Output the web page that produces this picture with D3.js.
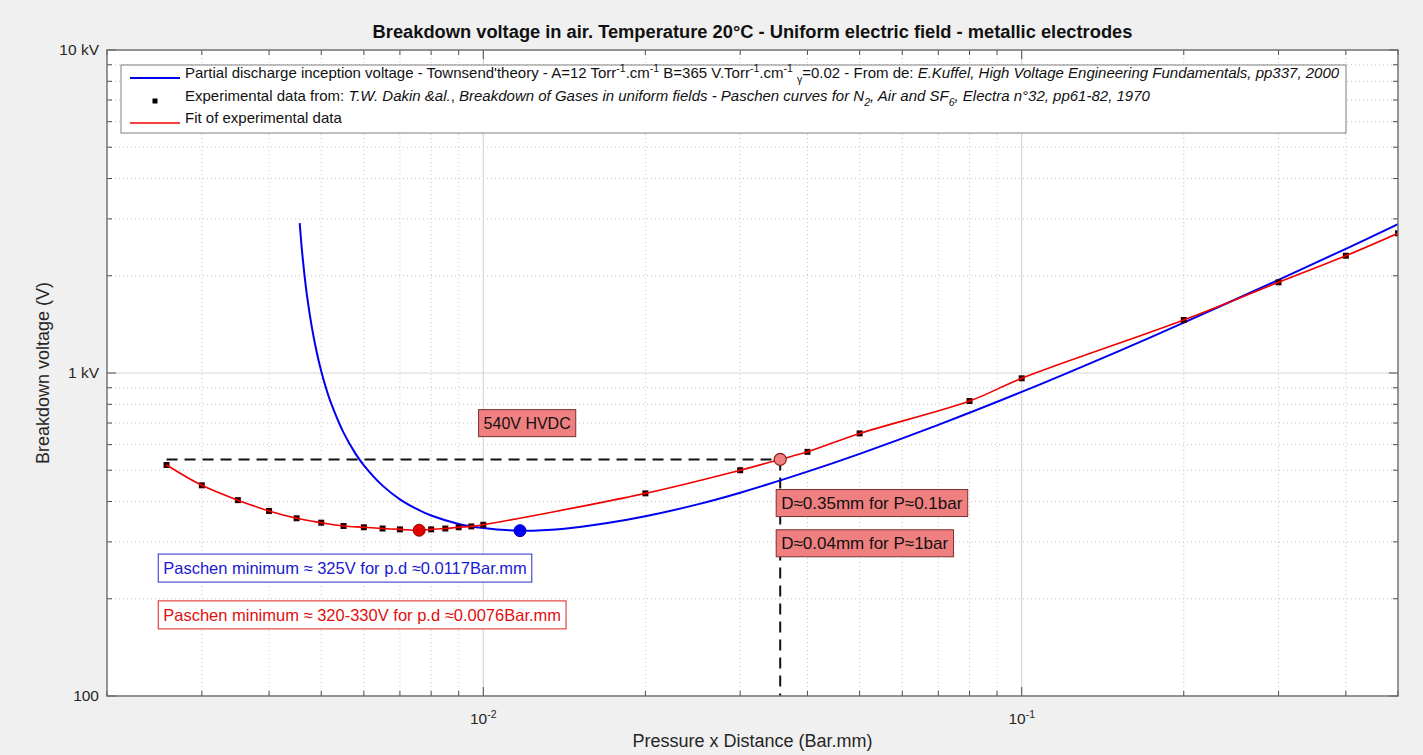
<!DOCTYPE html>
<html><head><meta charset="utf-8">
<script src="https://cdn.jsdelivr.net/npm/d3@7"></script>
<style>
body{margin:0;background:#f0f0f0;}
svg{display:block;font-family:"Liberation Sans",Arial,Helvetica,sans-serif;}
</style>
</head><body>
<svg id="chart" width="1423" height="755"></svg>
<script>
// ---------- data ----------
const expPd = [0.00258,0.003,0.0035,0.004,0.0045,0.005,0.0055,0.006,0.0065,0.007,0.008,0.0085,0.009,0.0095,0.01,0.02,0.03,0.04,0.05,0.08,0.1,0.2,0.3,0.4,0.5];
const expV  = [519,449,404,374,355,344,336,333,330,328,328,330,333,335,339,424,500,570,650,819,963,1459,1909,2307,2707];

const fitPd = [0.00258,0.003,0.0035,0.004,0.0045,0.005,0.0055,0.006,0.0065,0.007,0.0076,0.008,0.0085,0.009,0.0095,0.01,0.02,0.03,0.0356,0.04,0.05,0.08,0.1,0.2,0.3,0.4,0.5];
const fitV  = [519,449,404,374,355,344,336,333,330,328,326,328,330,333,335,339,424,500,540,570,650,819,963,1459,1909,2307,2707];

const townsendPd = [0.00456,0.0046,0.00465,0.0047,0.0048,0.0049,0.005,0.0051,0.0052,0.0055,0.0058,0.006,0.0065,0.007,0.0075,0.008,0.009,0.01,0.0117,0.014,0.017,0.02,0.025,0.03,0.04,0.05,0.07,0.1,0.15,0.2,0.3,0.4,0.5];
const townsendV  = [2910,2436,2037,1755,1395,1168,1013,901,817,654,560,518,448,406,380,362,341,331,325,329,343,360,392,426,495,562,691,874,1161,1432,1942,2424,2888];

const minTownsendPd = 0.0117, minTownsendV = 325;
const minExpPd = 0.0076, minExpV = 326;
const hvdcPd = 0.0356, hvdcV = 540;

const xMajorTicks = [0.01, 0.1];
const xTickExponents = ["-2", "-1"];
const yMajorTicks = [100, 1000, 10000];
const yTickLabels = ["100", "1 kV", "10 kV"];

const titleText = "Breakdown voltage in air. Temperature 20°C - Uniform electric field - metallic electrodes";
const xLabelText = "Pressure x Distance (Bar.mm)";
const yLabelText = "Breakdown voltage (V)";

// ---------- layout ----------
const W = 1423, H = 755;
const L = 107, R = 1398, T = 50, B = 696;
const svg = d3.select("#chart");
const x = d3.scaleLog().domain([0.002, 0.5]).range([L, R]);
const y = d3.scaleLog().domain([100, 10000]).range([B, T]);

svg.append("rect").attr("width", W).attr("height", H).attr("fill", "#f0f0f0");
svg.append("rect").attr("x", L).attr("y", T).attr("width", R - L).attr("height", B - T).attr("fill", "#fff");

// minor tick values
const xMinor = [], yMinor = [];
[0.001, 0.01, 0.1].forEach(d => { for (let k = 2; k <= 9; k++) { const v = d * k; if (v >= 0.002 - 1e-9 && v <= 0.5 + 1e-9) xMinor.push(v); } });
[100, 1000].forEach(d => { for (let k = 2; k <= 9; k++) yMinor.push(d * k); });

// grid
const grid = svg.append("g");
grid.selectAll(".gxm").data(xMinor).join("line")
  .attr("x1", d => x(d)).attr("x2", d => x(d)).attr("y1", T).attr("y2", B)
  .attr("stroke", "#c4c4c4").attr("stroke-width", 1).attr("stroke-dasharray", "1,3");
grid.selectAll(".gym").data(yMinor).join("line")
  .attr("y1", d => y(d)).attr("y2", d => y(d)).attr("x1", L).attr("x2", R)
  .attr("stroke", "#c4c4c4").attr("stroke-width", 1).attr("stroke-dasharray", "1,3");
grid.selectAll(".gxM").data(xMajorTicks).join("line")
  .attr("x1", d => x(d)).attr("x2", d => x(d)).attr("y1", T).attr("y2", B)
  .attr("stroke", "#d6d6d6").attr("stroke-width", 1.2);
grid.selectAll(".gyM").data(yMajorTicks).join("line")
  .attr("y1", d => y(d)).attr("y2", d => y(d)).attr("x1", L).attr("x2", R)
  .attr("stroke", "#d6d6d6").attr("stroke-width", 1.2);

// clip
svg.append("clipPath").attr("id", "clip").append("rect").attr("x", L).attr("y", T).attr("width", R - L).attr("height", B - T);
const plot = svg.append("g").attr("clip-path", "url(#clip)");

// dashed guide lines
plot.append("line").attr("x1", x(expPd[0])).attr("x2", x(hvdcPd)).attr("y1", y(hvdcV)).attr("y2", y(hvdcV))
  .attr("stroke", "#111").attr("stroke-width", 2).attr("stroke-dasharray", "11,7");
plot.append("line").attr("x1", x(hvdcPd)).attr("x2", x(hvdcPd)).attr("y1", y(hvdcV)).attr("y2", y(100))
  .attr("stroke", "#111").attr("stroke-width", 2).attr("stroke-dasharray", "11,7");

const lineGen = d3.line().x(d => x(d[0])).y(d => y(d[1])).curve(d3.curveCatmullRom.alpha(0.5));
// Townsend theory
plot.append("path").datum(d3.zip(townsendPd, townsendV)).attr("d", lineGen)
  .attr("fill", "none").attr("stroke", "#0000f0").attr("stroke-width", 2);
// experimental markers
plot.selectAll(".exp").data(d3.zip(expPd, expV)).join("rect")
  .attr("x", d => x(d[0]) - 3).attr("y", d => y(d[1]) - 3).attr("width", 6).attr("height", 6)
  .attr("fill", "#2a0000");
// fit
plot.append("path").datum(d3.zip(fitPd, fitV)).attr("d", lineGen)
  .attr("fill", "none").attr("stroke", "#f00000").attr("stroke-width", 1.6);

// circles
plot.append("circle").attr("cx", x(minExpPd)).attr("cy", y(minExpV)).attr("r", 6)
  .attr("fill", "#e00000").attr("stroke", "#a00000").attr("stroke-width", 1);
plot.append("circle").attr("cx", x(minTownsendPd)).attr("cy", y(minTownsendV)).attr("r", 6)
  .attr("fill", "#0000f0").attr("stroke", "#0000c0").attr("stroke-width", 1);
plot.append("circle").attr("cx", x(hvdcPd)).attr("cy", y(hvdcV)).attr("r", 6)
  .attr("fill", "#f08080").attr("stroke", "#8b1a1a").attr("stroke-width", 1.2);

// annotation boxes
function boxText(px, py, txt, opts) {
  const g = svg.append("g");
  const t = g.append("text").attr("x", px + opts.pad).attr("y", py).attr("dy", "0.35em")
    .attr("font-size", opts.size).attr("fill", opts.color).text(txt);
  const bb = t.node().getBBox();
  g.insert("rect", "text").attr("x", px).attr("y", bb.y - opts.vpad)
    .attr("width", bb.width + 2 * opts.pad).attr("height", bb.height + 2 * opts.vpad)
    .attr("fill", opts.fill).attr("stroke", opts.stroke).attr("stroke-width", 1);
}
const salmon = {pad: 5, vpad: 5, size: 16, color: "#111", fill: "#f08080", stroke: "#7a3030"};
const salmonD = Object.assign({}, salmon, {size: 17, vpad: 4});
boxText(x(0.0098), y(700), "540V HVDC", salmon);
boxText(x(hvdcPd) - 4, y(397), "D\u22480.35mm for P\u22480.1bar", salmonD);
boxText(x(hvdcPd) - 4, y(298), "D\u22480.04mm for P\u22481bar", salmonD);
boxText(x(0.00249), y(248.5), "Paschen minimum \u2248 325V for p.d \u22480.0117Bar.mm",
  {pad: 5, vpad: 5, size: 16.5, color: "#1a1ad0", fill: "#fff", stroke: "#2a2ad0"});
boxText(x(0.00249), y(178), "Paschen minimum \u2248 320-330V for p.d \u22480.0076Bar.mm",
  {pad: 5, vpad: 5, size: 16.5, color: "#e01010", fill: "#fff", stroke: "#e02020"});

// ticks (inward, all sides)
const tk = svg.append("g").attr("stroke", "#4d4d4d").attr("stroke-width", 1);
const majL = 9, minL = 5;
xMajorTicks.concat(xMinor).forEach(v => {
  const len = xMajorTicks.includes(v) ? majL : minL;
  tk.append("line").attr("x1", x(v)).attr("x2", x(v)).attr("y1", B).attr("y2", B - len);
  tk.append("line").attr("x1", x(v)).attr("x2", x(v)).attr("y1", T).attr("y2", T + len);
});
yMajorTicks.concat(yMinor).forEach(v => {
  const len = yMajorTicks.includes(v) ? majL : minL;
  tk.append("line").attr("y1", y(v)).attr("y2", y(v)).attr("x1", L).attr("x2", L + len);
  tk.append("line").attr("y1", y(v)).attr("y2", y(v)).attr("x1", R).attr("x2", R - len);
});

// legend
const lg = svg.append("g");
lg.append("rect").attr("x", 121).attr("y", 65).attr("width", 1225).attr("height", 68)
  .attr("fill", "#fff").attr("stroke", "#808080").attr("stroke-width", 1);
const rows = [78, 101, 123];
lg.append("line").attr("x1", 130).attr("x2", 180).attr("y1", rows[0]).attr("y2", rows[0]).attr("stroke", "#0000f0").attr("stroke-width", 2);
lg.append("rect").attr("x", 155 - 2.5).attr("y", rows[1] - 2.5).attr("width", 5).attr("height", 5).attr("fill", "#000");
lg.append("line").attr("x1", 130).attr("x2", 180).attr("y1", rows[2]).attr("y2", rows[2]).attr("stroke", "#f00000").attr("stroke-width", 1.6);

function richText(parent, px, py, segs, size) {
  const t = parent.append("text").attr("x", px).attr("y", py).attr("dy", "0.35em").attr("font-size", size).attr("fill", "#111");
  let shift = 0;
  segs.forEach(s => {
    const [txt, st] = s;
    let target = 0, fs = size;
    if (st && st.includes("sup")) { target = -size * 0.38; fs = size * 0.7; }
    if (st && st.includes("sub")) { target = size * 0.3; fs = size * 0.7; }
    const ts = t.append("tspan").attr("font-size", fs).attr("dy", target - shift).text(txt);
    if (st && st.includes("i")) ts.attr("font-style", "italic");
    shift = target;
  });
  return t;
}
const lsize = 15;
richText(lg, 185, rows[0], [
  ["Partial discharge inception voltage - Townsend'theory - A=12 Torr"], ["-1", "sup"], [".cm"], ["-1", "sup"],
  [" B=365 V.Torr"], ["-1", "sup"], [".cm"], ["-1", "sup"], ["  "], ["\u03b3", "sub"], ["=0.02  - From de: "],
  ["E.Kuffel, High Voltage Engineering Fundamentals, pp337, 2000", "i"]
], lsize);
richText(lg, 185, rows[1], [
  ["Experimental data from: "], ["T.W. Dakin &al.", "i"], [", "],
  ["Breakdown of Gases in uniform fields - Paschen curves for N", "i"], ["2", "i sub"],
  [", Air and SF", "i"], ["6", "i sub"], [", Electra n°32, pp61-82, 1970", "i"]
], lsize);
richText(lg, 185, rows[2], [["Fit of experimental data"]], lsize);

// frame
svg.append("rect").attr("x", L).attr("y", T).attr("width", R - L).attr("height", B - T)
  .attr("fill", "none").attr("stroke", "#6e6e6e").attr("stroke-width", 1.4);

// tick labels
const ax = svg.append("g").attr("fill", "#262626").attr("font-size", 15.5);
yMajorTicks.forEach((v, i) => {
  ax.append("text").attr("x", L - 8).attr("y", y(v)).attr("dy", "0.35em").attr("text-anchor", "end").text(yTickLabels[i]);
});
xMajorTicks.forEach((v, i) => {
  const t = ax.append("text").attr("x", x(v)).attr("y", 724).attr("text-anchor", "middle");
  t.append("tspan").text("10");
  t.append("tspan").attr("font-size", 10.5).attr("dy", -6).text(xTickExponents[i]);
});

// labels & title
svg.append("text").attr("x", (L + R) / 2).attr("y", 747).attr("text-anchor", "middle")
  .attr("font-size", 18).attr("fill", "#262626").text(xLabelText);
svg.append("text").attr("transform", `translate(49,${(T + B) / 2}) rotate(-90)`).attr("text-anchor", "middle")
  .attr("font-size", 18).attr("fill", "#262626").text(yLabelText);
svg.append("text").attr("x", (L + R) / 2).attr("y", 38).attr("text-anchor", "middle")
  .attr("font-size", 18.3).attr("font-weight", "bold").attr("fill", "#111").text(titleText);
</script>
</body></html>
